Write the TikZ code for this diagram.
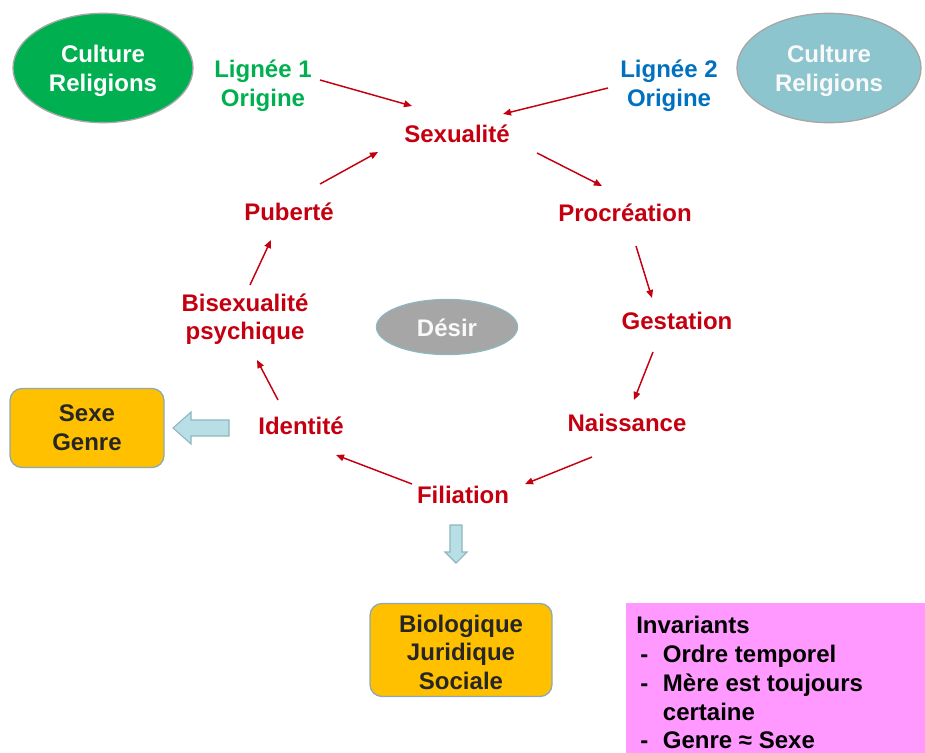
\documentclass[tikz,border=0pt]{standalone}
\usepackage{fontspec}
\setmainfont{Liberation Sans}
\usetikzlibrary{arrows.meta,shapes.geometric}
\definecolor{dred}{HTML}{C40010}
\definecolor{lgreen}{HTML}{00B050}
\definecolor{lblue}{HTML}{0070C0}
\definecolor{tealfill}{HTML}{8CC5CD}
\definecolor{orangefill}{HTML}{FFC000}
\definecolor{boxborder}{HTML}{8EA9B5}
\definecolor{arrfill}{HTML}{B9DFE6}
\definecolor{arrborder}{HTML}{8DB6BE}
\definecolor{pinkfill}{HTML}{FF99FF}
\definecolor{darktext}{HTML}{262626}
\begin{document}
\begin{tikzpicture}[x=0.75pt,y=-0.75pt,
  txt/.style={font=\fontsize{18}{21.4}\selectfont\bfseries, align=center, inner sep=0pt},
  lbl/.style={txt, text=dred},
  oval/.style={ellipse, draw=boxborder, line width=1pt},
  ovaltext/.style={txt, text=white!95!gray},
  obox/.style={txt, rounded corners=9pt, fill=orangefill, draw=boxborder, line width=1pt, text=darktext},
  rarr/.style={draw=dred, line width=1.1pt, -{Triangle[length=6pt,width=5pt]}},
  hollow/.style={fill=arrfill, draw=arrborder, line width=0.8pt}]
\useasboundingbox (0,0) rectangle (925,753);

% ovals
\node[oval, fill=lgreen, draw=gray!70, minimum width=135pt, minimum height=82pt] (c1) at (103,68) {};
\node[ovaltext, text=white] (c1t) at (103,71) {Culture\\Religions};
\node[oval, fill=tealfill, draw=gray!70, minimum width=138pt, minimum height=82pt] (c2) at (829,68) {};
\node[ovaltext] (c2t) at (829,71) {Culture\\Religions};
\node[oval, fill=black!35, draw=arrborder, minimum width=105.75pt, minimum height=41.25pt] (desir) at (447,327) {};
\node[ovaltext] (desirt) at (447,328) {Désir};

% lineage labels
\node[txt, text=lgreen] (l1) at (263,86) {Lignée 1\\Origine};
\node[txt, text=lblue] (l2) at (669,86) {Lignée 2\\Origine};

% cycle
\node[lbl] (sex) at (457,134) {Sexualité};
\node[lbl] (proc) at (625,213) {Procréation};
\node[lbl] (gest) at (677,321) {Gestation};
\node[lbl] (nais) at (627,423) {Naissance};
\node[lbl] (fil) at (463,495) {Filiation};
\node[lbl] (ident) at (301,426) {Identité};
\node[lbl] (bisex) at (245,319) {Bisexualité\\psychique};
\node[lbl] (pub) at (289,212) {Puberté};

% boxes
\node[obox, minimum width=115.5pt, minimum height=59.25pt] (sg) at (87,428) {Sexe\\Genre};
\node[obox, minimum width=136.5pt, minimum height=69.75pt] (bio) at (461,650) {};
\node[txt, text=darktext] (biot) at (461,652) {Biologique\\Juridique\\Sociale};

% invariants
\fill[pinkfill] (626,603) rectangle (930,760);
\node[anchor=north west, inner sep=0pt, align=left, font=\fontsize{18}{21.6}\selectfont\bfseries, text=black] (inv) at (636,616)
  {Invariants\\
   \makebox[20pt][l]{\hspace{3pt}-}Ordre temporel\\
   \makebox[20pt][l]{\hspace{3pt}-}Mère est toujours\\
   \makebox[20pt][l]{}certaine\\
   \makebox[20pt][l]{\hspace{3pt}-}Genre ≈ Sexe};

% red arrows
\draw[rarr] ([shift={(57,-6)}]l1.center) -- ([shift={(-45,-28)}]sex.center);
\draw[rarr] ([shift={(-61,2)}]l2.center) -- ([shift={(46,-20)}]sex.center);
\draw[rarr] ([shift={(80,19)}]sex.center) -- ([shift={(-23,-27)}]proc.center);
\draw[rarr] ([shift={(11,33)}]proc.center) -- ([shift={(-25,-23)}]gest.center);
\draw[rarr] ([shift={(-24,31)}]gest.center) -- ([shift={(7,-23)}]nais.center);
\draw[rarr] ([shift={(-35,34)}]nais.center) -- ([shift={(62,-11)}]fil.center);
\draw[rarr] ([shift={(-51,-11)}]fil.center) -- ([shift={(35,29)}]ident.center);
\draw[rarr] ([shift={(-23,-26)}]ident.center) -- ([shift={(12,41)}]bisex.center);
\draw[rarr] ([shift={(5,-34)}]bisex.center) -- ([shift={(-18,28)}]pub.center);
\draw[rarr] ([shift={(31,-28)}]pub.center) -- ([shift={(-79,18)}]sex.center);

% hollow block arrows
\draw[hollow] (229,420) -- (191,420) -- (191,412) -- (173,428) -- (191,444) -- (191,436) -- (229,436) -- cycle;
\draw[hollow] (450,525) -- (462,525) -- (462,552) -- (467,552) -- (456,563) -- (445,552) -- (450,552) -- cycle;
\end{tikzpicture}
\end{document}
